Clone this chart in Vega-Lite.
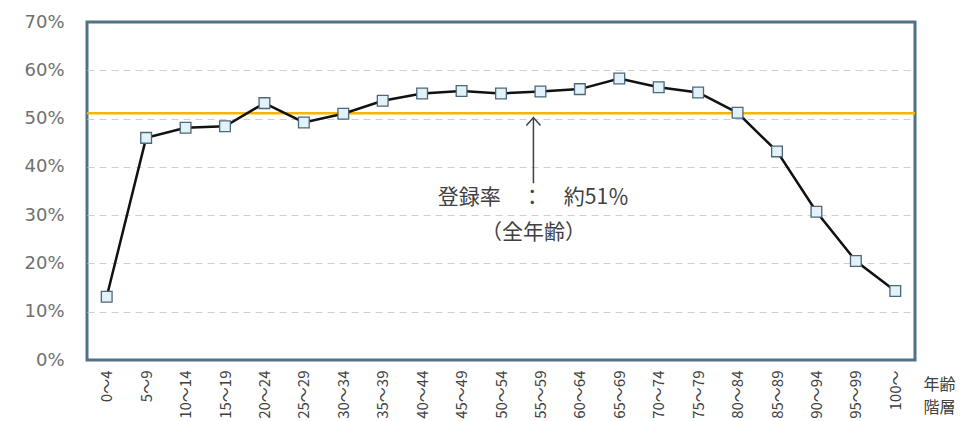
{
  "$schema": "https://vega.github.io/schema/vega-lite/v6.json",
  "width": 828,
  "height": 338,
  "autosize": {"type": "none"},
  "padding": {"left": 87, "top": 22, "right": 52, "bottom": 61},
  "background": "white",
  "config": {
    "view": {"stroke": "#4f7385", "strokeWidth": 3},
    "font": "Noto Sans CJK JP"
  },
  "datasets": {
    "rates": [
      {"age": "0～4", "rate": 0.131},
      {"age": "5～9", "rate": 0.460},
      {"age": "10～14", "rate": 0.481},
      {"age": "15～19", "rate": 0.484},
      {"age": "20～24", "rate": 0.532},
      {"age": "25～29", "rate": 0.492},
      {"age": "30～34", "rate": 0.510},
      {"age": "35～39", "rate": 0.537},
      {"age": "40～44", "rate": 0.552},
      {"age": "45～49", "rate": 0.557},
      {"age": "50～54", "rate": 0.552},
      {"age": "55～59", "rate": 0.556},
      {"age": "60～64", "rate": 0.561},
      {"age": "65～69", "rate": 0.583},
      {"age": "70～74", "rate": 0.565},
      {"age": "75～79", "rate": 0.554},
      {"age": "80～84", "rate": 0.512},
      {"age": "85～89", "rate": 0.432},
      {"age": "90～94", "rate": 0.307},
      {"age": "95～99", "rate": 0.205},
      {"age": "100～", "rate": 0.143}
    ],
    "overall": [{"rate": 0.511}],
    "arrow": [{"age": "55～59", "from": 0.366, "to": 0.500, "tip": 0.502}],
    "notes": [
      {"age": "55～59", "v": 0.336, "label": "登録率　：　約51％"},
      {"age": "55～59", "v": 0.262, "label": "（全年齢）"}
    ]
  },
  "layer": [
    {
      "data": {"name": "rates"},
      "mark": {"type": "rule", "opacity": 0},
      "encoding": {
        "y": {
          "field": "rate",
          "type": "quantitative",
          "scale": {"domain": [0, 0.7], "nice": false},
          "axis": {
            "title": null,
            "values": [0, 0.1, 0.2, 0.3, 0.4, 0.5, 0.6, 0.7],
            "format": ".0%",
            "labelFont": "DejaVu Sans",
            "labelFontSize": 18,
            "labelColor": "#707070",
            "labelPadding": 23,
            "ticks": false,
            "domain": false,
            "grid": true,
            "gridColor": "#cfcfcf",
            "gridDash": [7, 5],
            "gridWidth": 1,
            "gridOpacity": {"condition": {"test": "datum.value <= 0 || datum.value >= 0.7", "value": 0}, "value": 1}
          }
        }
      }
    },
    {
      "data": {"name": "overall"},
      "mark": {"type": "rule", "color": "#f2b705", "strokeWidth": 2.5},
      "encoding": {"y": {"field": "rate", "type": "quantitative"}}
    },
    {
      "data": {"name": "rates"},
      "mark": {"type": "line", "color": "#111111", "strokeWidth": 2.5},
      "encoding": {
        "x": {
          "field": "age",
          "type": "nominal",
          "sort": null,
          "scale": {"type": "point", "padding": 0.5},
          "axis": {
            "title": ["年齢", "階層"],
            "titleAngle": 0,
            "titleX": 852,
            "titleY": 16,
            "titleAlign": "center",
            "titleBaseline": "top",
            "titleFontSize": 16,
            "titleFontWeight": "normal",
            "titleColor": "#404040",
            "titleLineHeight": 23,
            "labelAngle": -90,
            "labelAlign": "right",
            "labelBaseline": "middle",
            "labelFontSize": 15,
            "labelColor": "#404040",
            "labelPadding": 10,
            "labelOverlap": false,
            "ticks": false,
            "domain": false,
            "grid": false
          }
        },
        "y": {"field": "rate", "type": "quantitative"}
      }
    },
    {
      "data": {"name": "rates"},
      "mark": {"type": "point", "shape": "square", "filled": true, "fill": "#e2f2f8", "stroke": "#4a6877", "strokeWidth": 1.3, "size": 115, "opacity": 1},
      "encoding": {
        "x": {"field": "age", "type": "nominal", "sort": null},
        "y": {"field": "rate", "type": "quantitative"}
      }
    },
    {
      "data": {"name": "arrow"},
      "mark": {"type": "rule", "color": "#404040", "strokeWidth": 1.5, "xOffset": -7},
      "encoding": {
        "x": {"field": "age", "type": "nominal", "sort": null},
        "y": {"field": "from", "type": "quantitative"},
        "y2": {"field": "to"}
      }
    },
    {
      "data": {"name": "arrow"},
      "mark": {"type": "point", "shape": "M-1,1.1L0,0L1,1.1", "filled": false, "stroke": "#404040", "strokeWidth": 1.5, "size": 200, "opacity": 1, "xOffset": -7},
      "encoding": {
        "x": {"field": "age", "type": "nominal", "sort": null},
        "y": {"field": "tip", "type": "quantitative"}
      }
    },
    {
      "data": {"name": "notes"},
      "mark": {"type": "text", "fontSize": 21, "color": "#404040", "align": "center", "baseline": "middle", "xOffset": -7},
      "encoding": {
        "x": {"field": "age", "type": "nominal", "sort": null},
        "y": {"field": "v", "type": "quantitative"},
        "text": {"field": "label"}
      }
    }
  ]
}
